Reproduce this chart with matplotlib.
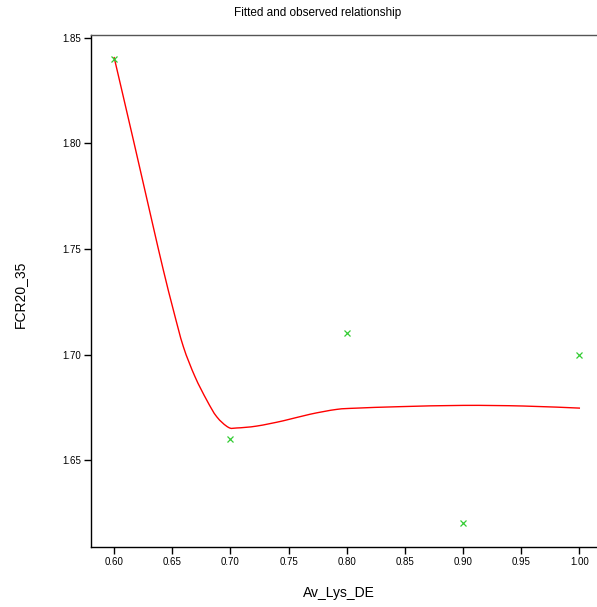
import matplotlib.pyplot as plt
from matplotlib.path import Path
from matplotlib.patches import PathPatch

plt.rcParams['font.family'] = ['Liberation Sans', 'DejaVu Sans']

# observed data
obs_x = [0.60, 0.70, 0.80, 0.90, 1.00]
obs_y = [1.84, 1.66, 1.71, 1.62, 1.70]

# fitted curve
fit_x = [0.6000, 0.6166, 0.6324, 0.6424, 0.6510, 0.6596, 0.6696, 0.6797, 0.6883,
         0.6983, 0.7055, 0.7227, 0.7455, 0.7685, 0.7914, 0.8086, 0.8459, 0.9003,
         0.9519, 1.0006]
fit_y = [1.8410, 1.8017, 1.7637, 1.7400, 1.7211, 1.7037, 1.6895, 1.6784, 1.6705,
         1.6655, 1.6652, 1.6661, 1.6686, 1.6717, 1.6740, 1.6746, 1.6753, 1.6759,
         1.6756, 1.6746]

x_ticks = [0.60, 0.65, 0.70, 0.75, 0.80, 0.85, 0.90, 0.95, 1.00]
y_ticks = [1.65, 1.70, 1.75, 1.80, 1.85]

fig = plt.figure(figsize=(5.97, 6.07), dpi=100)
ax = fig.add_axes([91 / 597, 1 - 547 / 607, 1 - 91 / 597, (547 - 35) / 607])

# smooth the fitted line through the read points (Catmull-Rom -> bezier)
pts = list(zip(fit_x, fit_y))
verts = [pts[0]]
codes = [Path.MOVETO]
for i in range(len(pts) - 1):
    p0 = pts[max(i - 1, 0)]
    p1 = pts[i]
    p2 = pts[i + 1]
    p3 = pts[min(i + 2, len(pts) - 1)]
    c1 = (p1[0] + (p2[0] - p0[0]) / 6, p1[1] + (p2[1] - p0[1]) / 6)
    c2 = (p2[0] - (p3[0] - p1[0]) / 6, p2[1] - (p3[1] - p1[1]) / 6)
    verts += [c1, c2, p2]
    codes += [Path.CURVE4] * 3
ax.add_patch(PathPatch(Path(verts, codes), facecolor='none', edgecolor='red', linewidth=1.0))

ax.plot(obs_x, obs_y, linestyle='none', marker='x', color='#33cc33',
        markersize=5, markeredgewidth=0.9)

ax.set_xlim(0.5802, 1.0152)
ax.set_ylim(1.6088, 1.8514)
ax.set_xticks(x_ticks)
ax.set_xticklabels([f'{v:.2f}' for v in x_ticks])
ax.set_yticks(y_ticks)
ax.set_yticklabels([f'{v:.2f}' for v in y_ticks])
ax.tick_params(axis='both', direction='out', labelsize=7, length=5, width=1, pad=2)

ax.spines['right'].set_visible(False)
ax.spines['top'].set_color('#555555')
for s in ['left', 'bottom', 'top']:
    ax.spines[s].set_linewidth(1.0)

fig.text(317.5 / 597, 1 - 13 / 607, 'Fitted and observed relationship',
         ha='center', va='center', fontsize=8.5)
fig.text(338.5 / 597, 1 - 593 / 607, 'Av_Lys_DE', ha='center', va='center', fontsize=10)
fig.text(20 / 597, 1 - 294 / 607, 'FCR20_35', ha='center', va='center',
         rotation=90, fontsize=10)

fig.savefig('out.png', dpi=100)
